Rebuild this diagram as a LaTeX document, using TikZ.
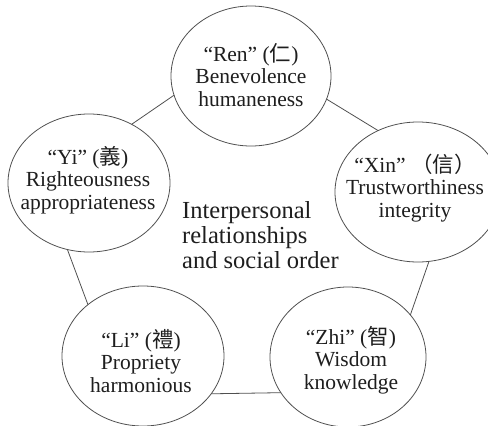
\documentclass[tikz,border=0pt]{standalone}
\usepackage{fontspec}
\setmainfont{Liberation Serif}
\newfontfamily\cjk{Noto Sans CJK TC}
\usetikzlibrary{shapes.geometric}
\definecolor{linegray}{HTML}{505050}
\definecolor{textgray}{HTML}{1E1E1E}
\begin{document}
\begin{tikzpicture}[x=1pt,y=-1pt,
  virtue/.style={draw=linegray, line width=0.8pt, ellipse, inner sep=0pt, outer sep=0pt},
  vtext/.style={align=center, text=textgray, inner sep=0pt, font=\fontsize{21.5}{22.5}\selectfont},
  link/.style={draw=linegray, line width=0.8pt}]
\useasboundingbox (0,0) rectangle (488,426);
\node[virtue, minimum width=160pt, minimum height=140pt] (ren) at (251,76) {};
\node[virtue, minimum width=162pt, minimum height=138pt] (yi) at (89,183) {};
\node[virtue, minimum width=166pt, minimum height=140pt] (xin) at (418,192) {};
\node[virtue, minimum width=162pt, minimum height=140pt] (li) at (143,356) {};
\node[virtue, minimum width=156pt, minimum height=140pt] (zhi) at (348,357) {};
\node[vtext] (rent) at (251,75) {“Ren” ({\cjk 仁})\\Benevolence\\humaneness};
\node[vtext] (yit) at (88,180) {“Yi” ({\cjk 義})\\Righteousness\\appropriateness};
\node[vtext] (xint) at (415,188) {“Xin” {\cjk （信）}\\Trustworthiness\\integrity};
\node[vtext] (lit) at (141,361) {“Li” ({\cjk 禮})\\Propriety\\harmonious};
\node[vtext] (zhit) at (351,360) {“Zhi” ({\cjk 智})\\Wisdom\\knowledge};
\node[anchor=west, align=left, text=textgray, inner sep=0pt,
  font=\fontsize{24.5}{25}\selectfont] (center) at (182,235)
  {Interpersonal\\relationships\\and social order};
\draw[link] (ren.194.7) -- (yi.54.4);
\draw[link] (ren.343.8) -- (xin.123);
\draw[link] (xin.279) -- (zhi.34.7);
\draw[link] (zhi.208.5) -- (li.331.5);
\draw[link] (li.137.6) -- (yi.252.3);
\end{tikzpicture}
\end{document}
